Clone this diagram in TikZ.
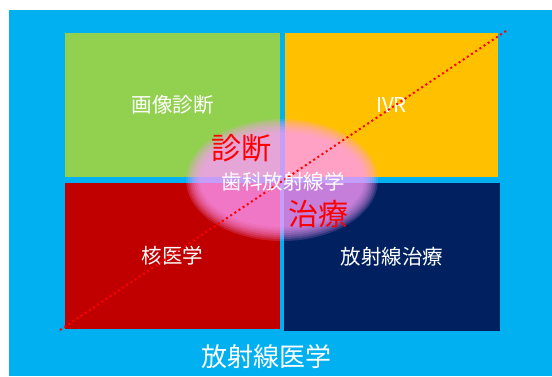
\documentclass[tikz,border=0pt]{standalone}
\usepackage{fontspec}
\setmainfont{Noto Sans CJK JP}
\definecolor{bgblue}{RGB}{0,176,240}
\definecolor{qgreen}{RGB}{146,208,80}
\definecolor{qorange}{RGB}{255,192,0}
\definecolor{qred}{RGB}{192,0,0}
\definecolor{qnavy}{RGB}{0,32,96}
\definecolor{pinkov}{RGB}{255,156,255}
\definecolor{dotred}{RGB}{255,0,0}
\tikzset{
  quad/.style={fill=#1, draw=none, inner sep=0pt, text=white, font=\fontsize{20.5}{24}\selectfont},
  bigred/.style={text=dotred, font=\fontsize{30}{34}\selectfont, inner sep=0pt},
  whitelab/.style={text=white, inner sep=0pt},
}
\begin{document}
\begin{tikzpicture}[x=1pt,y=-1pt]
\useasboundingbox (0,0) rectangle (552,376);
\fill[white] (0,0) rectangle (552,376);
\fill[bgblue] (9,10) rectangle (552,376);
% quadrants
\node[quad=qgreen, minimum width=215pt, minimum height=144pt] (g) at (172.5,105) {画像診断};
\node[quad=qorange, minimum width=213pt, minimum height=144pt] (o) at (391.5,105) {IVR};
\node[quad=qred, minimum width=215pt, minimum height=146pt] (r) at (172.5,256) {核医学};
\node[quad=qnavy, minimum width=216pt, minimum height=148pt] (n) at (392,257) {放射線治療};
% soft pink ellipse
\foreach \d in {-8,-6,...,6} {
  \fill[pinkov, fill opacity=0.173] (282,180) ellipse ({90+\d} and {55+\d});
}
\coordinate (ell) at (282,180);
% dotted diagonal
\coordinate (ds) at (60,330);
\coordinate (de) at (506,31);
\draw[dotred, line width=2pt, dash pattern=on 2pt off 3pt] (ds) -- (de);
% labels
\node[whitelab, font=\fontsize{20.5}{24}\selectfont] (dent) at (283,182) {歯科放射線学};
\node[bigred] (diag) at (241,148) {診断};
\node[bigred] (treat) at (318,214) {治療};
\node[whitelab, font=\fontsize{26}{30}\selectfont] (rad) at (266,357) {放射線医学};
\end{tikzpicture}
\end{document}
